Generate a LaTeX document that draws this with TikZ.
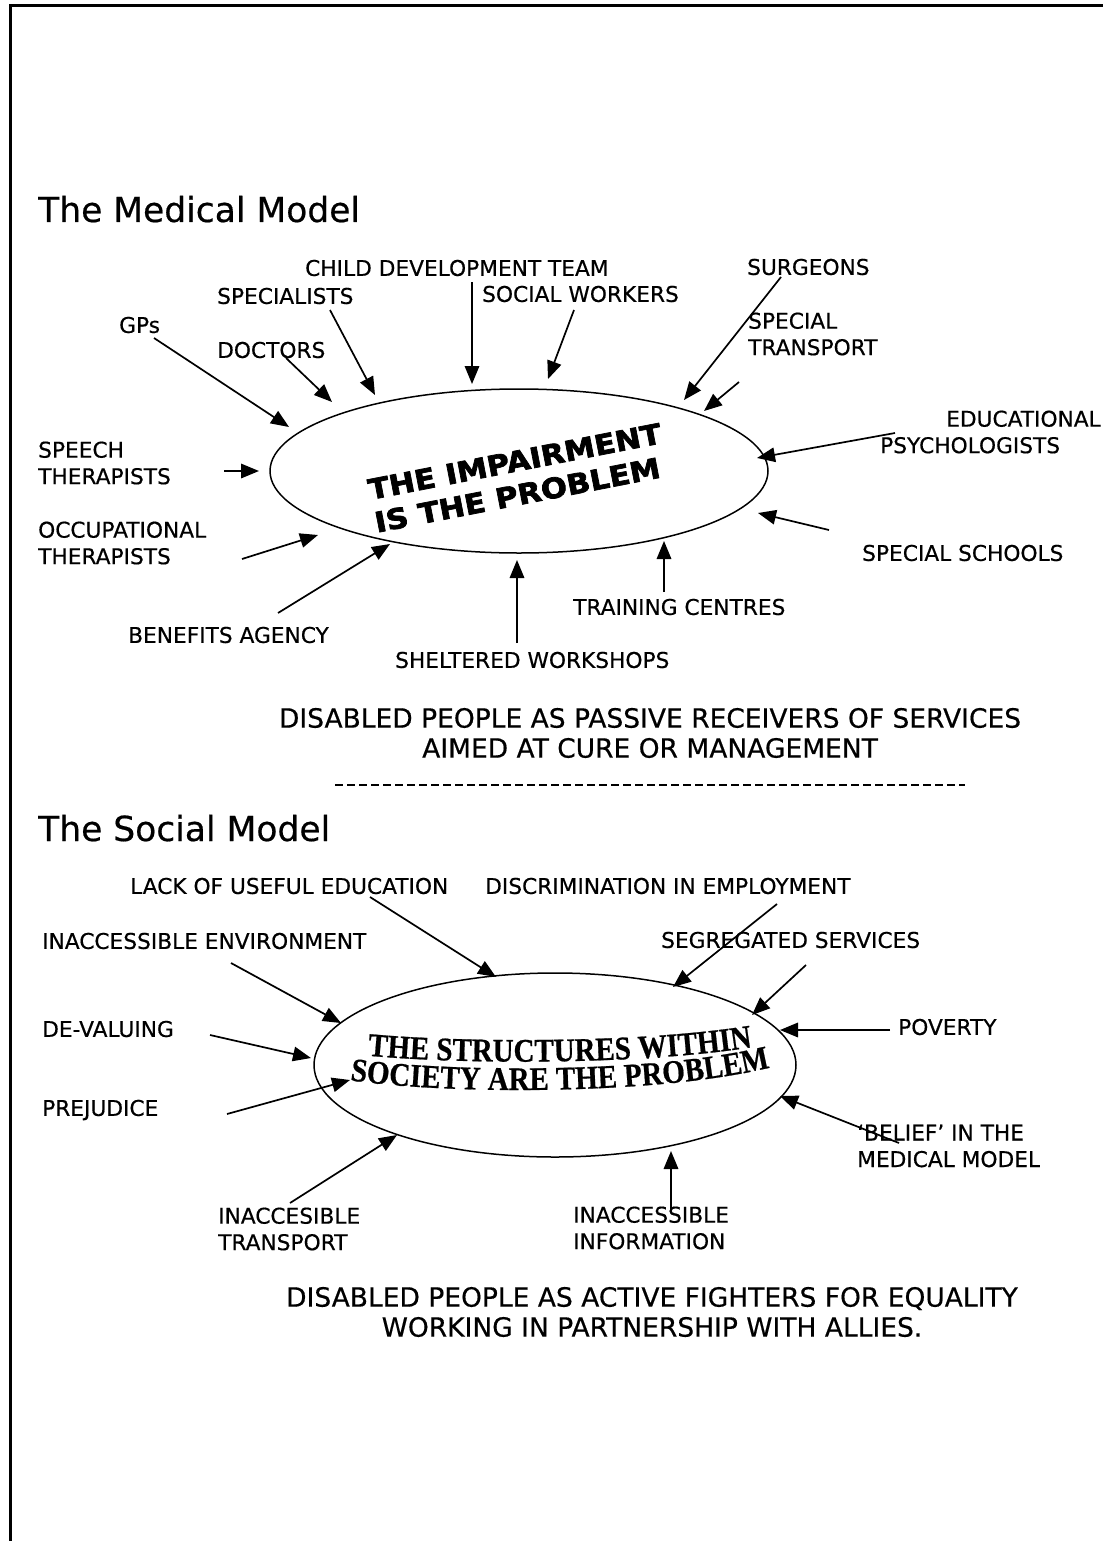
\documentclass[tikz,border=0pt]{standalone}
\usepackage{fontspec}
\setmainfont{DejaVu Sans}[FakeBold=0.5]
\newfontfamily\heavyfont{DejaVu Sans}[FakeStretch=1.1,FakeBold=2.5]
\newfontfamily\arcserif{Liberation Serif}[FakeStretch=0.88,FakeBold=0.6]
\usetikzlibrary{arrows.meta,decorations.text,shapes.geometric}
\newcommand\arcstyle{\arcserif\bfseries\fontsize{33}{33}\selectfont}

\begin{document}
\begin{tikzpicture}[x=1pt,y=-1pt,
  lbl/.style={font=\fontsize{21.7}{26.5}\selectfont, inner sep=0pt, anchor=west, align=left},
  ttl/.style={font=\fontsize{34.5}{40}\selectfont, inner sep=0pt, anchor=base west},
  caption/.style={font=\fontsize{26.5}{30}\selectfont, inner sep=0pt, align=center},
  feed/.style={line width=1.7pt, -{Triangle[length=18pt,width=14.5pt]}},
  blob/.style={ellipse, draw, line width=1.5pt, inner sep=0pt}]

% page and frame
\fill[white] (0,0) rectangle (1103,1541);
\useasboundingbox (0,0) rectangle (1103,1541);
\draw[line width=2.6pt] (10.5,1541) -- (10.5,5.5) -- (1103,5.5);

% ---------------- medical model ----------------
\node[ttl] (medtitle) at (38,222) {The Medical Model};
\node[blob, minimum width=498pt, minimum height=164pt] (med) at (519,471) {};
\node[font=\heavyfont\bfseries\fontsize{28}{33.5}\selectfont, inner sep=0pt,
      align=left, rotate=11] (medtext) at (518,478) {THE IMPAIRMENT\\IS THE PROBLEM};

\node[lbl] (cdt)    at (305,268) {CHILD DEVELOPMENT TEAM};
\node[lbl] (spec)   at (217,296) {SPECIALISTS};
\node[lbl] (sw)     at (482,294) {SOCIAL WORKERS};
\node[lbl] (surg)   at (747,267) {SURGEONS};
\node[lbl] (strans) at (748,334) {SPECIAL\\TRANSPORT};
\node[lbl] (gps)    at (119,325) {GPs};
\node[lbl] (doc)    at (217,350) {DOCTORS};
\node[lbl] (edu)    at (880,432) {\hspace*{66pt}EDUCATIONAL\\PSYCHOLOGISTS};
\node[lbl] (speech) at (38,463)  {SPEECH\\THERAPISTS};
\node[lbl] (occ)    at (38,543)  {OCCUPATIONAL\\THERAPISTS};
\node[lbl] (ss)     at (862,553) {SPECIAL SCHOOLS};
\node[lbl] (tc)     at (573,607) {TRAINING CENTRES};
\node[lbl] (ba)     at (128,635) {BENEFITS AGENCY};
\node[lbl] (shel)   at (395,660) {SHELTERED WORKSHOPS};

\node[caption] (passive) at (650,733) {DISABLED PEOPLE AS PASSIVE RECEIVERS OF SERVICES\\AIMED AT CURE OR MANAGEMENT};

% arrow ends, medical model
\coordinate (gpsA) at (154,338);   \coordinate (gpsB) at (289,427);
\coordinate (docA) at (286,358);   \coordinate (docB) at (332,402);
\coordinate (specA) at (330,310);  \coordinate (specB) at (375,395);
\coordinate (cdtA) at (472,282);   \coordinate (cdtB) at (472,384);
\coordinate (swA) at (574,310);    \coordinate (swB) at (548,379);
\coordinate (surgA) at (781,277);  \coordinate (surgB) at (684,400);
\coordinate (stA) at (739,382);    \coordinate (stB) at (704,411);
\coordinate (eduA) at (895,433);   \coordinate (eduB) at (757,458);
\coordinate (ssA) at (829,530);    \coordinate (ssB) at (758,513);
\coordinate (tcA) at (664,592);    \coordinate (tcB) at (664,541);
\coordinate (shA) at (517,643);    \coordinate (shB) at (517,560);
\coordinate (baA) at (278,613);    \coordinate (baB) at (390,544);
\coordinate (occA) at (242,559);   \coordinate (occB) at (318,535);
\coordinate (spA) at (224,471);    \coordinate (spB) at (259,471);

\foreach \s in {gps,doc,spec,cdt,sw,surg,st,edu,ss,tc,sh,ba,occ,sp}
  \draw[feed] (\s A) -- (\s B);

% separator
\coordinate (sepA) at (335,785);
\coordinate (sepB) at (965,785);
\draw[line width=1.3pt, dash pattern=on 8pt off 4pt] (sepA) -- (sepB);

% ---------------- social model ----------------
\node[ttl] (soctitle) at (38,841) {The Social Model};
\node[blob, minimum width=482pt, minimum height=184pt] (soc) at (555,1065) {};
\path[decorate, decoration={text along path, text align=center,
      text={|\arcstyle|THE STRUCTURES WITHIN}}]
  (361,1055) .. controls (460,1065) and (650,1065) .. (759,1046);
\path[decorate, decoration={text along path, text align=center,
      text={|\arcstyle|SOCIETY ARE THE PROBLEM}}]
  (348,1080) .. controls (450,1095) and (660,1095) .. (772,1067);

\node[lbl] (lack)   at (130,886)  {LACK OF USEFUL EDUCATION};
\node[lbl] (disc)   at (485,886)  {DISCRIMINATION IN EMPLOYMENT};
\node[lbl] (env)    at (42,941)   {INACCESSIBLE ENVIRONMENT};
\node[lbl] (seg)    at (661,940)  {SEGREGATED SERVICES};
\node[lbl] (deval)  at (42,1029)  {DE-VALUING};
\node[lbl] (pov)    at (898,1027) {POVERTY};
\node[lbl] (prej)   at (42,1110)  {PREJUDICE};
\node[lbl] (belief) at (857,1146) {‘BELIEF’ IN THE\\MEDICAL MODEL};
\node[lbl] (itrans) at (218,1229) {INACCESIBLE\\TRANSPORT};
\node[lbl] (iinfo)  at (573,1228) {INACCESSIBLE\\INFORMATION};

\node[caption] (active) at (652,1312) {DISABLED PEOPLE AS ACTIVE FIGHTERS FOR EQUALITY\\WORKING IN PARTNERSHIP WITH ALLIES.};

% arrow ends, social model
\coordinate (lackA) at (370,897);   \coordinate (lackB) at (496,977);
\coordinate (discA) at (777,904);   \coordinate (discB) at (673,987);
\coordinate (envA) at (231,963);    \coordinate (envB) at (341,1023);
\coordinate (segA) at (806,965);    \coordinate (segB) at (752,1015);
\coordinate (povA) at (890,1030);   \coordinate (povB) at (780,1030);
\coordinate (devA) at (210,1035);   \coordinate (devB) at (311,1058);
\coordinate (prA) at (227,1114);    \coordinate (prB) at (350,1080);
\coordinate (belA) at (899,1143);   \coordinate (belB) at (780,1096);
\coordinate (itA) at (290,1203);    \coordinate (itB) at (397,1135);
\coordinate (iiA) at (671,1213);    \coordinate (iiB) at (671,1151);

\foreach \s in {lack,disc,env,seg,pov,dev,pr,bel,it,ii}
  \draw[feed] (\s A) -- (\s B);

\end{tikzpicture}
\end{document}
